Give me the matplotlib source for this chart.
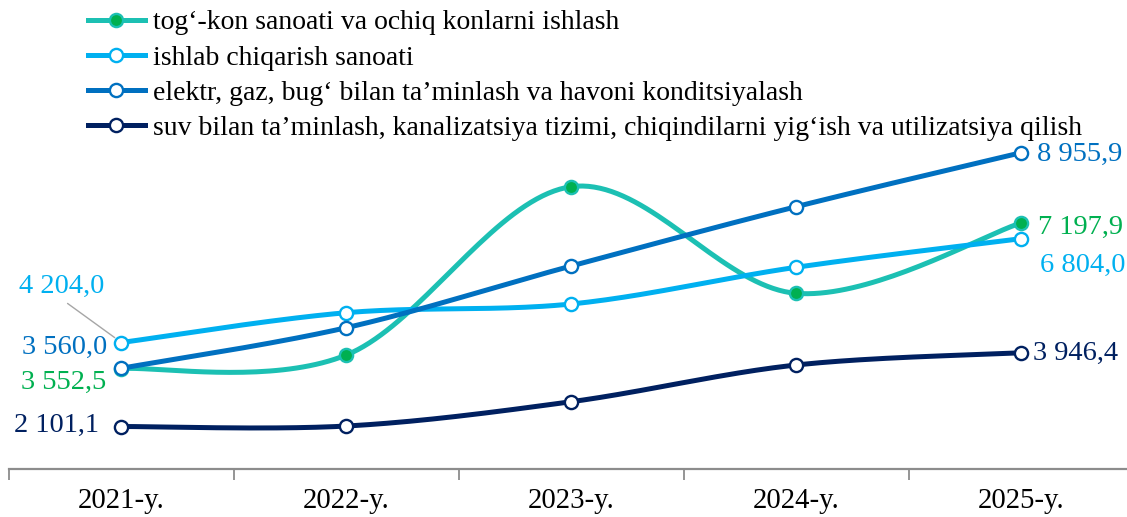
import numpy as np
import matplotlib.pyplot as plt
from matplotlib.lines import Line2D

plt.rcParams['font.family'] = ['Liberation Serif', 'DejaVu Serif']

years = ['2021-y.', '2022-y.', '2023-y.', '2024-y.', '2025-y.']
names = ['tog‘-kon sanoati va ochiq konlarni ishlash',
         'ishlab chiqarish sanoati',
         'elektr, gaz, bug‘ bilan ta’minlash va havoni konditsiyalash',
         'suv bilan ta’minlash, kanalizatsiya tizimi, chiqindilarni yig‘ish va utilizatsiya qilish']
togkon = [3552.5, 3891.5, 8105.7, 5436.0, 7197.9]
ishlab = [4204.0, 4950.6, 5168.5, 6087.5, 6804.0]
elektr = [3560.0, 4575.0, 6120.0, 7605.0, 8955.9]
suv = [2101.1, 2113.0, 2722.0, 3641.0, 3946.4]

series = [togkon, ishlab, elektr, suv]
line_colors = ['#1CC0B3', '#00B0F0', '#0070C0', '#002060']
face_colors = ['#00B050', 'white', 'white', 'white']
label_colors = ['#00B050', '#00B0F0', '#0070C0', '#002060']
# label offsets in pixels (first point, last point)
first_off = [(-15, -14, 'right'), (-60, 56, 'center'), (-14, 21, 'right'), (-22, 1, 'right')]
last_off = [(17, -4), (19, -27), (16, -2), (12, -1)]


def smooth(x, y, n=40):
    pts = np.column_stack([x, y])
    P = np.vstack([pts[0], pts, pts[-1]])
    out = []
    t = np.linspace(0, 1, n)[:, None]
    for i in range(1, len(P) - 2):
        p0, p1, p2, p3 = P[i - 1], P[i], P[i + 1], P[i + 2]
        c1 = p1 + (p2 - p0) / 6
        c2 = p2 - (p3 - p1) / 6
        out.append((1 - t)**3 * p1 + 3 * (1 - t)**2 * t * c1
                   + 3 * (1 - t) * t**2 * c2 + t**3 * p2)
    return np.vstack(out)


def fmt(v):
    s = f'{v:,.1f}'
    return s.replace(',', ' ').replace('.', ',')


fig = plt.figure(figsize=(11.27, 5.17), dpi=100)
ax = fig.add_axes([9 / 1127, 48 / 517, 1124.5 / 1127, 469 / 517])
x = np.arange(len(years))

handles = []
for vals, lc, fc, tc, fo, lo, name in zip(series, line_colors, face_colors,
                                            label_colors, first_off, last_off, names):
    c = smooth(x, np.array(vals, dtype=float))
    ax.plot(c[:, 0], c[:, 1], color=lc, lw=3.6, solid_capstyle='round', zorder=2)
    ax.plot(x, vals, 'o', ms=9.5, mfc=fc, mec=lc, mew=1.7, zorder=3)
    handles.append(Line2D([], [], color=lc, lw=3.6, marker='o', ms=9.5,
                          mfc=fc, mec=lc, mew=1.7))
    dx, dy, ha = fo
    if ha == 'center':
        ax.annotate(fmt(vals[0]), (x[0], vals[0]), xytext=(dx, dy),
                    textcoords='offset pixels', ha='center', va='center',
                    color=tc, fontsize=20.5,
                    arrowprops=dict(arrowstyle='-', color='#A6A6A6', lw=1,
                                    shrinkA=2, shrinkB=6,
                                    relpos=(0.5, 0.0)))
    else:
        ax.annotate(fmt(vals[0]), (x[0], vals[0]), xytext=(dx, dy),
                    textcoords='offset pixels', ha=ha, va='center',
                    color=tc, fontsize=20.5)
    ax.annotate(fmt(vals[-1]), (x[-1], vals[-1]), xytext=lo,
                textcoords='offset pixels', ha='left', va='center',
                color=tc, fontsize=20.5)

ax.set_xlim(-0.5, 4.5)
ax.set_ylim(1037, 12780)
ax.set_xticks(x)
ax.set_xticklabels(years, fontsize=20.7)
ax.set_xticks(np.arange(-0.5, 5, 1), minor=True)
ax.tick_params(axis='x', which='major', length=0, pad=14)
ax.tick_params(axis='x', which='minor', length=8, width=1.3, color='#8C8C8C')
ax.set_yticks([])
for s in ['top', 'right', 'left']:
    ax.spines[s].set_visible(False)
ax.spines['bottom'].set_color('#8C8C8C')
ax.spines['bottom'].set_linewidth(1.6)
ax.patch.set_visible(False)

fig.legend(handles, names, loc='upper left', bbox_to_anchor=(88 / 1127, 1 - 10 / 517),
           frameon=False, fontsize=20, handlelength=2.05, handletextpad=0.29,
           labelspacing=0.35, borderaxespad=0, borderpad=0)

fig.savefig('out.png', dpi=100)
